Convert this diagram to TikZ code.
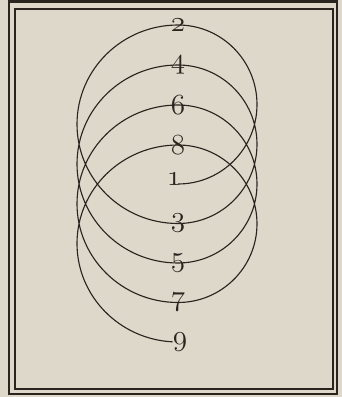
\documentclass[tikz,border=0pt]{standalone}
\usepackage{xcolor}
\usepackage{tikz}
\usetikzlibrary{calc}
\definecolor{paper}{RGB}{221,216,202}
\definecolor{ink}{RGB}{42,36,31}
\newcommand{\osnum}[1]{{\fontencoding{OML}\fontfamily{cmm}\fontseries{m}\fontshape{it}\selectfont #1}}

\begin{document}
\begin{tikzpicture}[x=0.025cm,y=0.025cm,
  winding/.style={draw=ink,line width=0.8pt},
  digit/.style={font=\fontsize{20}{22}\selectfont,text=ink,inner sep=0pt}]
  % ---- paper and double frame ----
  \fill[paper] (0,0) rectangle (342,397);
  \draw[ink,line width=1.6pt] (9,3) rectangle (337,395.5);
  \draw[ink,line width=0.9pt] (15,8) rectangle (333,388);
  % ---- turning points of the line ----
  \coordinate (p1) at (178,213);
  \coordinate (p2) at (178,372);
  \coordinate (p3) at (178,173.5);
  \coordinate (p4) at (178,332);
  \coordinate (p5) at (178,134);
  \coordinate (p6) at (178,292);
  \coordinate (p7) at (178,94.5);
  \coordinate (p8) at (178,252);
  \coordinate (p9) at (178,55);
  % ---- the winding line, 1 to 9 ----
  \draw[winding] (p1)
    arc[start angle=-90,end angle=90,x radius=79,y radius=79.5]
    arc[start angle=90,end angle=270,x radius=101,y radius=99.25]
    arc[start angle=-90,end angle=90,x radius=79,y radius=79.25]
    arc[start angle=90,end angle=270,x radius=101,y radius=99]
    arc[start angle=-90,end angle=90,x radius=79,y radius=79]
    arc[start angle=90,end angle=270,x radius=101,y radius=98.75]
    arc[start angle=-90,end angle=90,x radius=79,y radius=78.75]
    arc[start angle=90,end angle=267,x radius=101,y radius=98.5];
  % ---- numbers ----
  \node[digit] (n1) at ($(p1)+(-4,5)$) {\osnum{1}};
  \node[digit] (n2) at (p2) {\osnum{2}};
  \node[digit] (n3) at (p3) {\osnum{3}};
  \node[digit] (n4) at (p4) {\osnum{4}};
  \node[digit] (n5) at (p5) {\osnum{5}};
  \node[digit] (n6) at (p6) {\osnum{6}};
  \node[digit] (n7) at (p7) {\osnum{7}};
  \node[digit] (n8) at (p8) {\osnum{8}};
  \node[digit] (n9) at ($(p9)+(2,0)$) {\osnum{9}};
\end{tikzpicture}
\end{document}
